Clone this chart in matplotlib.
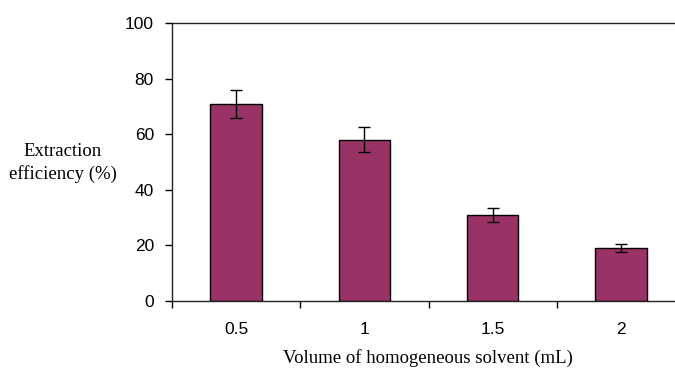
import numpy as np
import matplotlib.pyplot as plt

# Data
volumes = ['0.5', '1', '1.5', '2']
efficiency = [71, 58, 31, 19]
errors = [5, 4.5, 2.5, 1.5]

fig = plt.figure(figsize=(6.75, 3.69), dpi=100)
# plot area is cropped on the right in the original
ax = fig.add_axes([172/675, 1 - 301/369, (685 - 172)/675, (301 - 23)/369])

x = np.arange(len(volumes))
ax.bar(x, efficiency, width=0.4, color='#993366', edgecolor='black', linewidth=1.0,
       yerr=errors, capsize=4.5, error_kw=dict(elinewidth=1.0, capthick=1.0, ecolor='black'))

ax.set_xlim(-0.5, 3.5)
ax.set_ylim(0, 100)
ax.set_yticks([0, 20, 40, 60, 80, 100])
ax.set_xticks(x)
ax.set_xticklabels(volumes)
ax.set_xticks(np.arange(-0.5, 3.5, 1), minor=True)
ax.tick_params(axis='x', which='major', length=0, pad=15, labelsize=12.5)
ax.tick_params(axis='x', which='minor', length=5, direction='out', width=1)
ax.tick_params(axis='y', length=5, direction='out', width=1, pad=8, labelsize=12.5)
for lab in ax.get_xticklabels() + ax.get_yticklabels():
    lab.set_family('Liberation Sans')

for s in ['left', 'bottom', 'top']:
    ax.spines[s].set_linewidth(1.0)
    ax.spines[s].set_color('#222222')
ax.spines['right'].set_visible(False)

fig.text(63/675, 1 - 163/369, 'Extraction\nefficiency (%)', family='Liberation Serif',
         fontsize=13.5, ha='center', va='center', linespacing=1.3)
fig.text(428/675, 1 - 358/369, 'Volume of homogeneous solvent (mL)', family='Liberation Serif',
         fontsize=13.5, ha='center', va='center')

plt.savefig('out.png', dpi=100)
